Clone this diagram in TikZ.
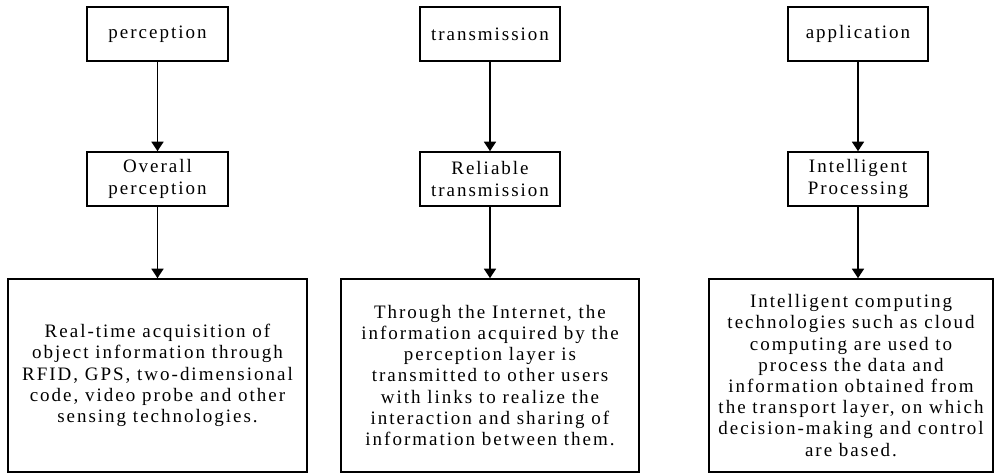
\documentclass[tikz,border=0pt]{standalone}
\usepackage{fontspec}
\setmainfont{Liberation Serif}[LetterSpace=10.5]
\usetikzlibrary{arrows.meta}
\begin{document}
\begin{tikzpicture}[x=1pt,y=1pt,
  box/.style={draw, line width=1.6pt, align=center, inner sep=0pt,
    font=\fontsize{19}{21.2}\selectfont},
  conn/.style={line width=1.6pt, -{Triangle[length=9.5pt,width=12pt]}}]
\useasboundingbox (0,0) rectangle (994,474);
% column 1
\node[box, minimum width=141, minimum height=54] (p1) at (157.5,440) {perception};
\node[box, minimum width=141, minimum height=54] (p2) at (157.5,295) {Overall\\perception};
\node[box, minimum width=299, minimum height=193] (p3) at (157.5,98.5) {Real-time acquisition of\\object information through\\RFID, GPS, two-dimensional\\code, video probe and other\\sensing technologies.};
% column 2
\node[box, minimum width=140, minimum height=54] (t1) at (490,440) {transmission};
\node[box, minimum width=140, minimum height=54] (t2) at (490,295) {Reliable\\transmission};
\node[box, minimum width=298, minimum height=193] (t3) at (490,98.5) {Through the Internet, the\\information acquired by the\\perception layer is\\transmitted to other users\\with links to realize the\\interaction and sharing of\\information between them.};
% column 3
\node[box, minimum width=140, minimum height=54] (a1) at (858,440) {application};
\node[box, minimum width=140, minimum height=54] (a2) at (858,295) {Intelligent\\Processing};
\node[box, minimum width=284, minimum height=193] (a3) at (851,98.5) {Intelligent computing\\technologies such as cloud\\computing are used to\\process the data and\\information obtained from\\the transport layer, on which\\decision-making and control\\are based.};
% connectors
\draw[conn] (p1) -- (p2);
\draw[conn] (p2) -- (p3.north -| p2.south);
\draw[conn] (t1) -- (t2);
\draw[conn] (t2) -- (t3.north -| t2.south);
\draw[conn] (a1) -- (a2);
\draw[conn] (a2) -- (a3.north -| a2.south);
\end{tikzpicture}
\end{document}
